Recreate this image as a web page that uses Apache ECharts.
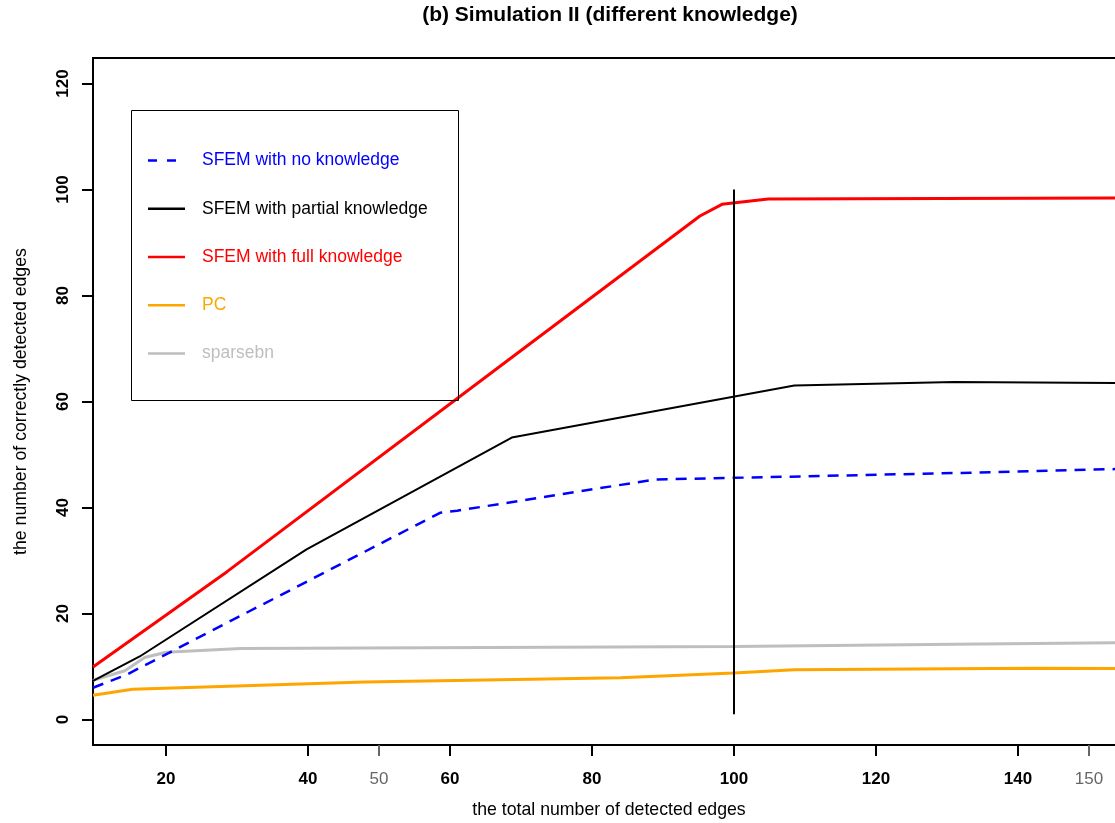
<!DOCTYPE html>
<html>
<head>
<meta charset="utf-8">
<script src="https://cdn.jsdelivr.net/npm/echarts@6/dist/echarts.min.js"></script>
<style>
html,body{margin:0;padding:0;background:#fff;}
#chart{width:1115px;height:823px;}
</style>
</head>
<body>
<div id="chart"></div>
<script>
// ---- data ----
const titleText = '(b) Simulation II (different knowledge)';
const xTitle = 'the total number of detected edges';
const yTitle = 'the number of correctly detected edges';

const seriesNames = ['SFEM with no knowledge', 'SFEM with partial knowledge', 'SFEM with full knowledge', 'PC', 'sparsebn'];

const noKnowledge = [[9.72,6.0],[14.5,8.5],[58.6,39.0],[61,39.4],[88.9,45.3],[100,45.6],[131,46.5],[155.1,47.3]];
const partialKnowledge = [[9.72,7.3],[16.3,11.9],[39.8,32.1],[68.7,53.2],[108.5,63.0],[131,63.7],[155.1,63.5]];
const fullKnowledge = [[9.72,9.9],[28.6,27.9],[68.5,68.1],[95.2,95.0],[98.3,97.2],[104.8,98.2],[155.1,98.4]];
const pcValues = [[9.72,4.6],[15.3,5.7],[48,7.1],[84,7.9],[100,8.8],[108.5,9.4],[142,9.7],[155.1,9.6]];
const sparsebnValues = [[9.72,7.4],[14.2,9.2],[17,11.7],[20,12.7],[30.5,13.4],[65.6,13.6],[100,13.8],[131,14.2],[155.1,14.5]];
const cutLine = [[100,1],[100,100]];

const xTicksMain = [20,40,60,80,100,120,140];
const xTicksExtra = [50,150];
const yTicks = [0,20,40,60,80,100,120];

// ---- chart ----
const FONT = '"Liberation Sans", Arial, Helvetica, sans-serif';
const chart = echarts.init(document.getElementById('chart'), null, {renderer:'canvas'});

const xRange = {min:9.72, max:155.07};

// legend icons: a line sitting in the middle of a 37x14 box
const solidIcon = 'path://M0,0 M0,5.75 L37,5.75 L37,8.25 L0,8.25 Z M37,14';
const dashIcon = 'path://M0,0 M0,5.75 L9,5.75 L9,8.25 L0,8.25 Z M19,5.75 L28,5.75 L28,8.25 L19,8.25 Z M37,14';

function lineSeries(name, data, color, width, dashed) {
  return {
    name: name, type: 'line', data: data, symbol: 'none', clip: true,
    animation: false, silent: true,
    lineStyle: {color: color, width: width, type: dashed ? [11, 8] : 'solid'},
    itemStyle: {color: color}
  };
}

const option = {
  animation: false,
  backgroundColor: '#ffffff',
  title: {
    text: titleText, left: 610, top: 5, textAlign: 'center', padding: 0,
    textStyle: {fontFamily: FONT, fontSize: 21, fontWeight: 'bold', color: '#000'}
  },
  grid: {
    left: 93, top: 58, width: 1032, height: 687,
    outerBoundsMode: 'none', containLabel: false,
    show: true, borderColor: '#000', borderWidth: 2, backgroundColor: 'transparent'
  },
  legend: {
    orient: 'vertical', left: 148, top: 150.5, padding: 0,
    itemWidth: 37, itemHeight: 14, itemGap: 28.25, selectedMode: false,
    textStyle: {fontFamily: FONT, fontSize: 17.5, lineHeight: 20, padding: [0,0,0,12]},
    data: [
      {name: seriesNames[0], icon: dashIcon, itemStyle: {color: '#0000FF'}, textStyle: {color: '#0000FF'}},
      {name: seriesNames[1], icon: solidIcon, itemStyle: {color: '#000000'}, textStyle: {color: '#000000'}},
      {name: seriesNames[2], icon: solidIcon, itemStyle: {color: '#FF0000'}, textStyle: {color: '#FF0000'}},
      {name: seriesNames[3], icon: solidIcon, itemStyle: {color: '#FFA500'}, textStyle: {color: '#FFA500'}},
      {name: seriesNames[4], icon: solidIcon, itemStyle: {color: '#BEBEBE'}, textStyle: {color: '#BEBEBE'}}
    ]
  },
  graphic: [{
    type: 'rect', silent: true, z: 10,
    shape: {x: 131.5, y: 110.5, width: 327, height: 290},
    style: {fill: 'transparent', stroke: '#000', lineWidth: 1}
  }],
  xAxis: [{
    type: 'value', position: 'bottom', min: xRange.min, max: xRange.max,
    name: xTitle, nameLocation: 'middle', nameGap: 56,
    nameTextStyle: {fontFamily: FONT, fontSize: 17.7, color: '#000'},
    axisLine: {show: false, onZero: false},
    splitLine: {show: false},
    axisTick: {show: true, length: 11, inside: false, customValues: xTicksMain, lineStyle: {color: '#000', width: 2}},
    axisLabel: {customValues: xTicksMain, margin: 26, fontFamily: FONT, fontSize: 17, fontWeight: 'bold', color: '#000'}
  }, {
    type: 'value', position: 'bottom', min: xRange.min, max: xRange.max,
    axisLine: {show: false, onZero: false},
    splitLine: {show: false},
    axisTick: {show: true, length: 11, inside: false, customValues: xTicksExtra, lineStyle: {color: '#666', width: 2}},
    axisLabel: {customValues: xTicksExtra, margin: 26, fontFamily: FONT, fontSize: 17, fontWeight: 'normal', color: '#666'}
  }],
  yAxis: {
    type: 'value', position: 'left', min: -4.8, max: 124.8,
    name: yTitle, nameLocation: 'middle', nameGap: 63,
    nameTextStyle: {fontFamily: FONT, fontSize: 17.7, color: '#000'},
    axisLine: {show: false, onZero: false},
    splitLine: {show: false},
    axisTick: {show: true, length: 11, inside: false, customValues: yTicks, lineStyle: {color: '#000', width: 2}},
    axisLabel: {customValues: yTicks, rotate: 90, margin: 21, fontFamily: FONT, fontSize: 17, fontWeight: 'bold', color: '#000'}
  },
  series: [
    lineSeries(seriesNames[4], sparsebnValues, '#BEBEBE', 3, false),
    lineSeries(seriesNames[3], pcValues, '#FFA500', 3, false),
    lineSeries(seriesNames[0], noKnowledge, '#0000FF', 2.5, true),
    lineSeries(seriesNames[1], partialKnowledge, '#000000', 2, false),
    lineSeries(seriesNames[2], fullKnowledge, '#FF0000', 3, false),
    {
      name: 'cutoff', type: 'line', data: cutLine, symbol: 'none', silent: true,
      lineStyle: {color: '#000', width: 2}, animation: false
    }
  ]
};
chart.setOption(option);
</script>
</body>
</html>
